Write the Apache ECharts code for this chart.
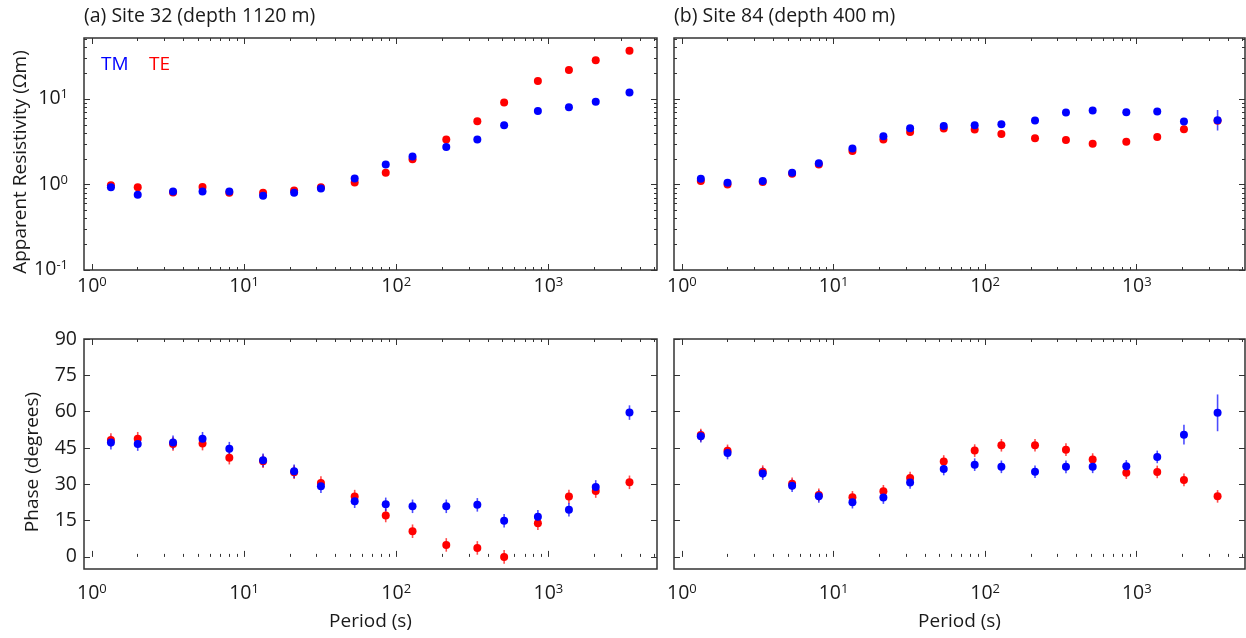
<!DOCTYPE html>
<html>
<head>
<meta charset="utf-8">
<script src="https://cdn.jsdelivr.net/npm/echarts@6/dist/echarts.min.js"></script>
<style>
  html, body { margin: 0; padding: 0; background: #fff; }
  #chart { width: 1246px; height: 638px; }
</style>
</head>
<body>
<div id="chart"></div>
<script>
// ---------------- data ----------------
const periods = [1.333, 2, 3.413, 5.333, 8, 13.33, 21.33, 32, 53.33, 85.33, 128, 213.3, 341.3, 512, 853.3, 1365, 2048, 3413];

// Site 32 apparent resistivity (Ohm m)
const rhoTM_a = [0.93, 0.76, 0.83, 0.83, 0.83, 0.74, 0.80, 0.90, 1.18, 1.72, 2.13, 2.75, 3.38, 4.94, 7.28, 8.05, 9.3, 12.0];
const rhoTE_a = [0.98, 0.93, 0.81, 0.94, 0.80, 0.80, 0.85, 0.93, 1.06, 1.38, 1.98, 3.38, 5.5, 9.14, 16.3, 21.9, 28.5, 37.0];
// Site 84 apparent resistivity (Ohm m)
const rhoTM_b = [1.17, 1.05, 1.10, 1.38, 1.78, 2.65, 3.67, 4.56, 4.85, 4.94, 5.08, 5.61, 6.97, 7.36, 7.03, 7.16, 5.46, 5.66];
const rhoTE_b = [1.10, 1.00, 1.07, 1.34, 1.72, 2.47, 3.36, 4.12, 4.52, 4.40, 3.91, 3.48, 3.32, 3.01, 3.18, 3.60, 4.44, 5.60];
// resistivity error (log10 units)
const rhoErrTM_a = [0.02, 0.02, 0.02, 0.02, 0.02, 0.02, 0.02, 0.02, 0.02, 0.02, 0.02, 0.02, 0.02, 0.02, 0.02, 0.02, 0.02, 0.02];
const rhoErrTE_a = [0.02, 0.02, 0.02, 0.02, 0.02, 0.02, 0.02, 0.02, 0.02, 0.02, 0.02, 0.02, 0.02, 0.02, 0.02, 0.02, 0.02, 0.02];
const rhoErrTM_b = [0.02, 0.02, 0.02, 0.02, 0.02, 0.02, 0.02, 0.02, 0.02, 0.02, 0.02, 0.02, 0.02, 0.02, 0.02, 0.02, 0.03, 0.12];
const rhoErrTE_b = [0.02, 0.02, 0.02, 0.02, 0.02, 0.02, 0.02, 0.02, 0.02, 0.02, 0.02, 0.02, 0.02, 0.02, 0.02, 0.02, 0.02, 0.03];

// Site 32 phase (degrees)
const phTM_a = [47.2, 46.6, 47.3, 48.8, 44.7, 39.9, 35.4, 29.2, 23.0, 21.7, 20.9, 20.9, 21.5, 14.9, 16.6, 19.5, 28.9, 59.6];
const phTE_a = [48.3, 48.8, 46.6, 46.8, 41.0, 39.5, 35.0, 30.5, 24.9, 17.1, 10.6, 4.95, 3.7, 0.0, 13.9, 24.9, 27.2, 30.8];
// Site 84 phase (degrees)
const phTM_b = [49.8, 42.9, 34.4, 29.4, 25.0, 22.6, 24.5, 30.7, 36.3, 38.1, 37.2, 35.2, 37.2, 37.2, 37.4, 41.3, 50.5, 59.5];
const phTE_b = [50.3, 43.8, 35.2, 30.2, 25.6, 24.6, 27.1, 32.6, 39.4, 43.9, 46.1, 46.1, 44.3, 40.2, 34.8, 35.1, 31.8, 25.0];
// phase errors (degrees)
const phErrTM_a = [2.8, 2.8, 2.8, 2.8, 2.8, 2.8, 2.8, 2.8, 2.8, 2.8, 2.8, 2.8, 2.8, 2.8, 2.8, 2.8, 2.8, 3.0];
const phErrTE_a = [2.8, 2.8, 2.8, 2.8, 2.8, 2.8, 2.8, 2.8, 2.8, 2.8, 2.8, 2.8, 2.8, 2.8, 2.8, 2.8, 2.8, 2.8];
const phErrTM_b = [2.6, 2.6, 2.6, 2.6, 2.6, 2.6, 2.6, 2.6, 2.6, 2.6, 2.6, 2.6, 2.6, 2.6, 2.6, 2.6, 4.1, 7.6];
const phErrTE_b = [2.6, 2.6, 2.6, 2.6, 2.6, 2.6, 2.6, 2.6, 2.6, 2.6, 2.6, 2.6, 2.6, 2.6, 2.6, 2.6, 2.6, 2.6];

// axis ticks
const xMajor = [1, 10, 100, 1000];
const xMinor = [2,3,4,5,6,7,8,9, 20,30,40,50,60,70,80,90, 200,300,400,500,600,700,800,900, 2000,3000,4000,5000];
const rhoMajor = [0.1, 1, 10];
const rhoMinor = [0.2,0.3,0.4,0.5,0.6,0.7,0.8,0.9, 2,3,4,5,6,7,8,9, 20,30,40,50];
const phTicks = [0, 15, 30, 45, 60, 75, 90];

const titles = ['(a) Site 32 (depth 1120 m)', '(b) Site 84 (depth 400 m)'];

// ---------------- styling ----------------
const FONT = 'Open Sans';
const TXT = '#1a1a1a';
const FRAME = '#333';
const RED = '#ff0000';
const BLUE = '#0000ff';
const X_MIN = 0.887, X_MAX = 5176;
const RHO_MIN = 0.1, RHO_MAX = 52;
const TICK_FS = 19.5;

const grids = [
  { left: 84, top: 38, width: 573, height: 232 },
  { left: 674, top: 38, width: 571, height: 232 },
  { left: 84, top: 339, width: 573, height: 230 },
  { left: 674, top: 339, width: 571, height: 230 }
];

function powLabel(v) {
  const e = Math.round(Math.log10(v));
  return '{b|10}{s|' + e + '}';
}
const powRich = {
  b: { fontSize: TICK_FS, lineHeight: 19, verticalAlign: 'bottom', fontFamily: FONT, color: TXT },
  s: { fontSize: 13, lineHeight: 13, padding: [0, 0, 9, 0], fontFamily: FONT, color: TXT }
};

function xAxesFor(g, bottomRow) {
  const base = { type: 'log', logBase: 10, gridIndex: g, min: X_MIN, max: X_MAX,
    axisLine: { show: false }, splitLine: { show: false } };
  const major = { inside: true, length: 6, lineStyle: { color: FRAME, width: 1 }, customValues: xMajor };
  const minor = { inside: true, length: 3, lineStyle: { color: FRAME, width: 1 }, customValues: xMinor };
  const a0 = Object.assign({}, base, {
    position: 'bottom',
    axisTick: major,
    axisLabel: { customValues: xMajor, formatter: powLabel, rich: powRich, margin: bottomRow ? 15 : 7,
      fontFamily: FONT, fontSize: TICK_FS, color: TXT }
  });
  if (bottomRow) {
    a0.name = 'Period (s)';
    a0.nameLocation = 'middle';
    a0.nameGap = 43;
    a0.nameTextStyle = { fontFamily: FONT, fontSize: 19, color: TXT };
  }
  const a1 = Object.assign({}, base, { position: 'bottom', axisTick: minor, axisLabel: { show: false } });
  const a2 = Object.assign({}, base, { position: 'top', axisTick: major, axisLabel: { show: false } });
  const a3 = Object.assign({}, base, { position: 'top', axisTick: minor, axisLabel: { show: false } });
  return [a0, a1, a2, a3];
}

function rhoAxesFor(g, withName) {
  const base = { type: 'log', logBase: 10, gridIndex: g, min: RHO_MIN, max: RHO_MAX,
    axisLine: { show: false }, splitLine: { show: false } };
  const major = { inside: true, length: 6, lineStyle: { color: FRAME, width: 1 }, customValues: rhoMajor };
  const minor = { inside: true, length: 3, lineStyle: { color: FRAME, width: 1 }, customValues: rhoMinor };
  const a0 = Object.assign({}, base, {
    position: 'left',
    axisTick: major,
    axisLabel: { show: withName, customValues: rhoMajor, formatter: powLabel, rich: powRich, margin: 16,
      fontFamily: FONT, fontSize: TICK_FS, color: TXT }
  });
  if (withName) {
    a0.name = 'Apparent Resistivity (\u03A9m)';
    a0.nameLocation = 'middle';
    a0.nameGap = 50;
    a0.nameTextStyle = { fontFamily: FONT, fontSize: 19, color: TXT, padding: [0, 16, 0, 0] };
  }
  const a1 = Object.assign({}, base, { position: 'left', axisTick: minor, axisLabel: { show: false } });
  const a2 = Object.assign({}, base, { position: 'right', axisTick: major, axisLabel: { show: false } });
  const a3 = Object.assign({}, base, { position: 'right', axisTick: minor, axisLabel: { show: false } });
  return [a0, a1, a2, a3];
}

function phAxesFor(g, withName) {
  const base = { type: 'value', gridIndex: g, min: -5, max: 90,
    axisLine: { show: false }, splitLine: { show: false } };
  const tick = { inside: true, length: 6, lineStyle: { color: FRAME, width: 1 }, customValues: phTicks };
  const a0 = Object.assign({}, base, {
    position: 'left',
    axisTick: tick,
    axisLabel: { show: withName, customValues: phTicks, margin: 7, fontFamily: FONT, fontSize: TICK_FS, color: TXT }
  });
  if (withName) {
    a0.name = 'Phase (degrees)';
    a0.nameLocation = 'middle';
    a0.nameGap = 42;
    a0.nameTextStyle = { fontFamily: FONT, fontSize: 19, color: TXT, padding: [0, 16, 0, 0] };
  }
  const a1 = Object.assign({}, base, { position: 'right', axisTick: tick, axisLabel: { show: false } });
  return [a0, a1];
}

const xAxis = [].concat(xAxesFor(0, false), xAxesFor(1, false), xAxesFor(2, true), xAxesFor(3, true));
const yAxis = [].concat(rhoAxesFor(0, true), rhoAxesFor(1, false), phAxesFor(2, true), phAxesFor(3, false));

// primary axis indices per grid
const xIdx = [0, 4, 8, 12];
const yIdx = [0, 4, 8, 10];

function errRenderer(color) {
  return function (params, api) {
    const p1 = api.coord([api.value(0), api.value(1)]);
    const p2 = api.coord([api.value(0), api.value(2)]);
    return {
      type: 'line',
      shape: { x1: p1[0], y1: p1[1], x2: p2[0], y2: p2[1] },
      style: { stroke: color, lineWidth: 1.6, opacity: 0.7 }
    };
  };
}

function panelSeries(g, te, tm, teErr, tmErr, isLog) {
  const lo = (v, e) => isLog ? v / Math.pow(10, e) : v - e;
  const hi = (v, e) => isLog ? v * Math.pow(10, e) : v + e;
  const errData = (vals, errs) => periods.map((p, i) => [p, lo(vals[i], errs[i]), hi(vals[i], errs[i])]);
  const ptData = (vals) => periods.map((p, i) => [p, vals[i]]);
  const common = { xAxisIndex: xIdx[g], yAxisIndex: yIdx[g] };
  return [
    Object.assign({ type: 'custom', name: 'TE', renderItem: errRenderer(RED), data: errData(te, teErr), silent: true }, common),
    Object.assign({ type: 'scatter', name: 'TE', symbol: 'circle', symbolSize: 8, itemStyle: { color: RED, opacity: 1 }, data: ptData(te), silent: true }, common),
    Object.assign({ type: 'custom', name: 'TM', renderItem: errRenderer(BLUE), data: errData(tm, tmErr), silent: true }, common),
    Object.assign({ type: 'scatter', name: 'TM', symbol: 'circle', symbolSize: 8, itemStyle: { color: BLUE, opacity: 1 }, data: ptData(tm), silent: true }, common)
  ];
}

const series = [].concat(
  panelSeries(0, rhoTE_a, rhoTM_a, rhoErrTE_a, rhoErrTM_a, true),
  panelSeries(1, rhoTE_b, rhoTM_b, rhoErrTE_b, rhoErrTM_b, true),
  panelSeries(2, phTE_a, phTM_a, phErrTE_a, phErrTM_a, false),
  panelSeries(3, phTE_b, phTM_b, phErrTE_b, phErrTM_b, false)
);

const option = {
  animation: false,
  backgroundColor: '#fff',
  title: [
    { text: titles[0], left: 84, top: 6, padding: 0, textStyle: { fontFamily: FONT, fontSize: 19.5, fontWeight: 'normal', color: TXT } },
    { text: titles[1], left: 674, top: 6, padding: 0, textStyle: { fontFamily: FONT, fontSize: 19.5, fontWeight: 'normal', color: TXT } }
  ],
  graphic: [
    { type: 'text', left: 101, top: 55, style: { text: 'TM', fill: BLUE, font: '19px "Open Sans"' } },
    { type: 'text', left: 149, top: 55, style: { text: 'TE', fill: RED, font: '19px "Open Sans"' } }
  ],
  grid: grids.map(g => Object.assign({ show: true, borderColor: FRAME, borderWidth: 1.5, backgroundColor: 'transparent', containLabel: false }, g)),
  xAxis: xAxis,
  yAxis: yAxis,
  series: series
};

const chart = echarts.init(document.getElementById('chart'), null, { renderer: 'canvas' });
chart.setOption(option);
</script>
</body>
</html>
